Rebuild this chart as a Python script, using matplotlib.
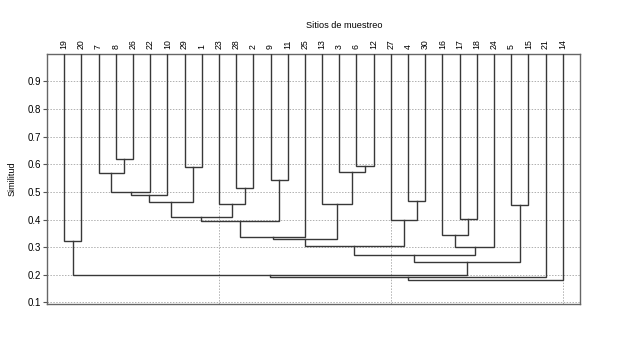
import matplotlib
matplotlib.use("Agg")
import matplotlib.pyplot as plt

# Leaf order (sampling sites) as displayed left to right
leaves = [19, 20, 7, 8, 26, 22, 10, 29, 1, 23, 28, 2, 9, 11, 25,
          13, 3, 6, 12, 27, 4, 30, 16, 17, 18, 24, 5, 15, 21, 14]

# Merges in order of definition: merge k is named "mk".
# (left, right, similarity). Ints = leaf labels, "mN" = earlier merge
merge_left = [8, 7, "m1", "m2", 29, "m3", 28, 23, "m5", 9, "m8", "m10", 6, 3, 13,
              "m11", 4, 27, "m15", 17, 16, "m20", "m18", 5, "m22", 19, "m25", "m26", "m27"]
merge_right = [26, "m0", 22, 10, 1, "m4", 2, "m6", "m7", 11, "m9", 25, 12, "m12", "m13",
               "m14", 30, "m16", "m17", 18, "m19", 24, "m21", 15, "m23", 20, "m24", 21, 14]
merge_sim = [0.62, 0.57, 0.50, 0.49, 0.59, 0.465, 0.515, 0.455, 0.41, 0.545, 0.395, 0.338,
             0.593, 0.571, 0.457, 0.328, 0.466, 0.40, 0.304, 0.403, 0.344, 0.30, 0.271,
             0.452, 0.247, 0.321, 0.198, 0.193, 0.18]

y_ticks = [0.1, 0.2, 0.3, 0.4, 0.5, 0.6, 0.7, 0.8, 0.9]
top_sim = 1.0

FONT = "Liberation Sans"

fig = plt.figure(figsize=(6.27, 3.59), dpi=100)
ax = fig.add_axes([0.075, 0.153, 0.85, 0.697])

line_col = "#383838"
lw = 1.0

pos = {}
hgt = {}
for i, lab in enumerate(leaves):
    pos[lab] = i + 1
    hgt[lab] = top_sim

for k, (a, b, s) in enumerate(zip(merge_left, merge_right, merge_sim)):
    xa, xb = pos[a], pos[b]
    ya, yb = hgt[a], hgt[b]
    ax.plot([xa, xa, xb, xb], [ya, s, s, yb], color=line_col, lw=lw,
            solid_joinstyle="miter", zorder=3)
    nm = "m%d" % k
    pos[nm] = (xa + xb) / 2.0
    hgt[nm] = s

ax.set_xlim(0, len(leaves) + 1)
ax.set_ylim(0.094, 1.0)
ax.set_yticks(y_ticks)
ax.set_yticklabels(["%.1f" % v for v in y_ticks], fontsize=7, family=FONT)
ax.set_xticks([10, 20, 30])
ax.tick_params(axis="x", which="both", length=0, labelbottom=False)
ax.tick_params(axis="y", length=3, width=0.8, color="#555555", pad=1.0)

ax.grid(True, which="major", linestyle=(0, (1.5, 1.5)), color="#b0b0b0", lw=0.7, zorder=0)

for lab in leaves:
    ax.annotate(str(lab), xy=(pos[lab], 1.0), xycoords="data",
                xytext=(0, 3.5), textcoords="offset points",
                rotation=90, ha="center", va="bottom",
                fontsize=6.3, family=FONT, annotation_clip=False)

for sp in ax.spines.values():
    sp.set_color("#666666")
    sp.set_linewidth(1.0)

ax.set_ylabel("Similitud", fontsize=6.5, family=FONT, labelpad=8)
fig.text(344 / 627, 1 - 25.5 / 359, "Sitios de muestreo", ha="center", va="center",
         fontsize=6.6, family=FONT)

fig.savefig("out.png", dpi=100)
